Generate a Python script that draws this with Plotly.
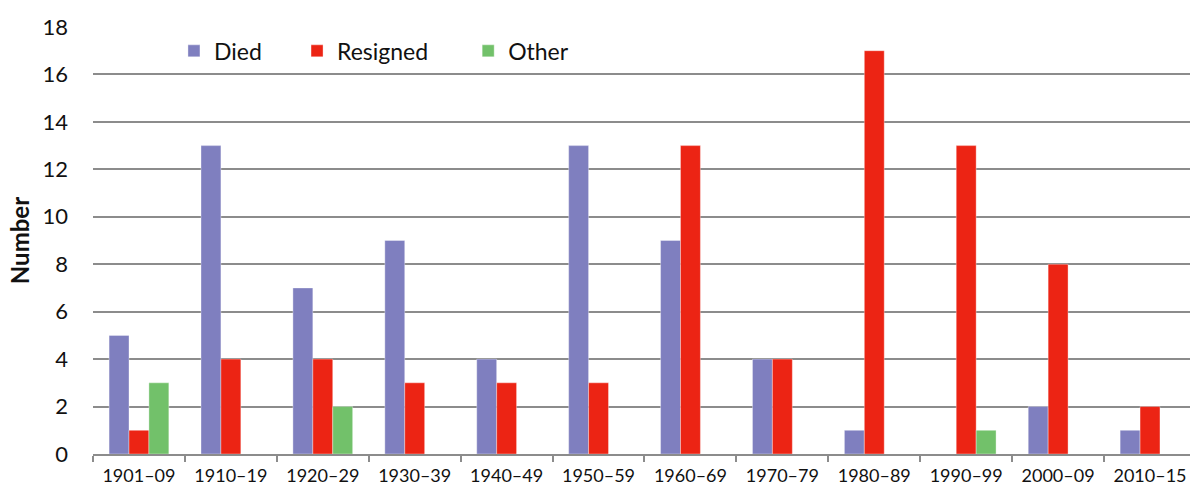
import plotly.graph_objects as go

categories = ["1901–09", "1910–19", "1920–29", "1930–39", "1940–49", "1950–59",
              "1960–69", "1970–79", "1980–89", "1990–99", "2000–09", "2010–15"]
died = [5, 13, 7, 9, 4, 13, 9, 4, 1, 0, 2, 1]
resigned = [1, 4, 4, 3, 3, 3, 13, 4, 17, 13, 8, 2]
other = [3, 0, 2, 0, 0, 0, 0, 0, 0, 1, 0, 0]
y_ticks = [0, 2, 4, 6, 8, 10, 12, 14, 16, 18]

FONT = "Lato, 'Open Sans', sans-serif"

fig = go.Figure()
series = [("Died", died, "#7f7fbf", "legend"),
          ("Resigned", resigned, "#ec2414", "legend2"),
          ("Other", other, "#72c16a", "legend3")]
for name, vals, col, lg in series:
    fig.add_trace(go.Bar(x=categories, y=vals, name=name, legend=lg,
                         marker=dict(color=col, line=dict(width=1, color="rgba(255,255,255,0.35)"))))

leg_common = dict(orientation="h", yanchor="middle", y=0.944, xanchor="left",
                  font=dict(family=FONT, size=23, color="#111"),
                  bgcolor="rgba(0,0,0,0)", itemwidth=30)
fig.update_layout(
    width=1190, height=491,
    margin=dict(l=93, r=0, t=27, b=37, autoexpand=False),
    paper_bgcolor="white", plot_bgcolor="white",
    barmode="group", bargap=0.35, bargroupgap=0,
    showlegend=True,
    legend=dict(x=0.0738, **leg_common),
    legend2=dict(x=0.186, **leg_common),
    legend3=dict(x=0.342, **leg_common),
    font=dict(family=FONT, color="#111"),
)
fig.update_xaxes(
    type="category", range=[-0.5, 11.435], automargin=False,
    tickson="boundaries", ticks="outside", ticklen=6, tickcolor="#8c8c8c", tickwidth=1.5,
    showline=True, linecolor="#8c8c8c", linewidth=2,
    showgrid=False, ticklabelstandoff=4,
    tickfont=dict(family=FONT, size=18, color="#111"),
)
fig.update_yaxes(
    range=[0, 18], tickvals=y_ticks, automargin=False,
    showgrid=True, gridcolor="#8c8c8c", gridwidth=1.5,
    zeroline=False, showline=False,
    ticklabelstandoff=24,
    tickfont=dict(family=FONT, size=22, color="#111"),
    title=dict(text="<b>Number</b>", font=dict(family=FONT, size=24, color="#111"), standoff=6),
)
fig.write_html("out.html", config={"displayModeBar": False},
               post_script="document.body.style.margin='0';document.body.style.overflow='hidden';")
